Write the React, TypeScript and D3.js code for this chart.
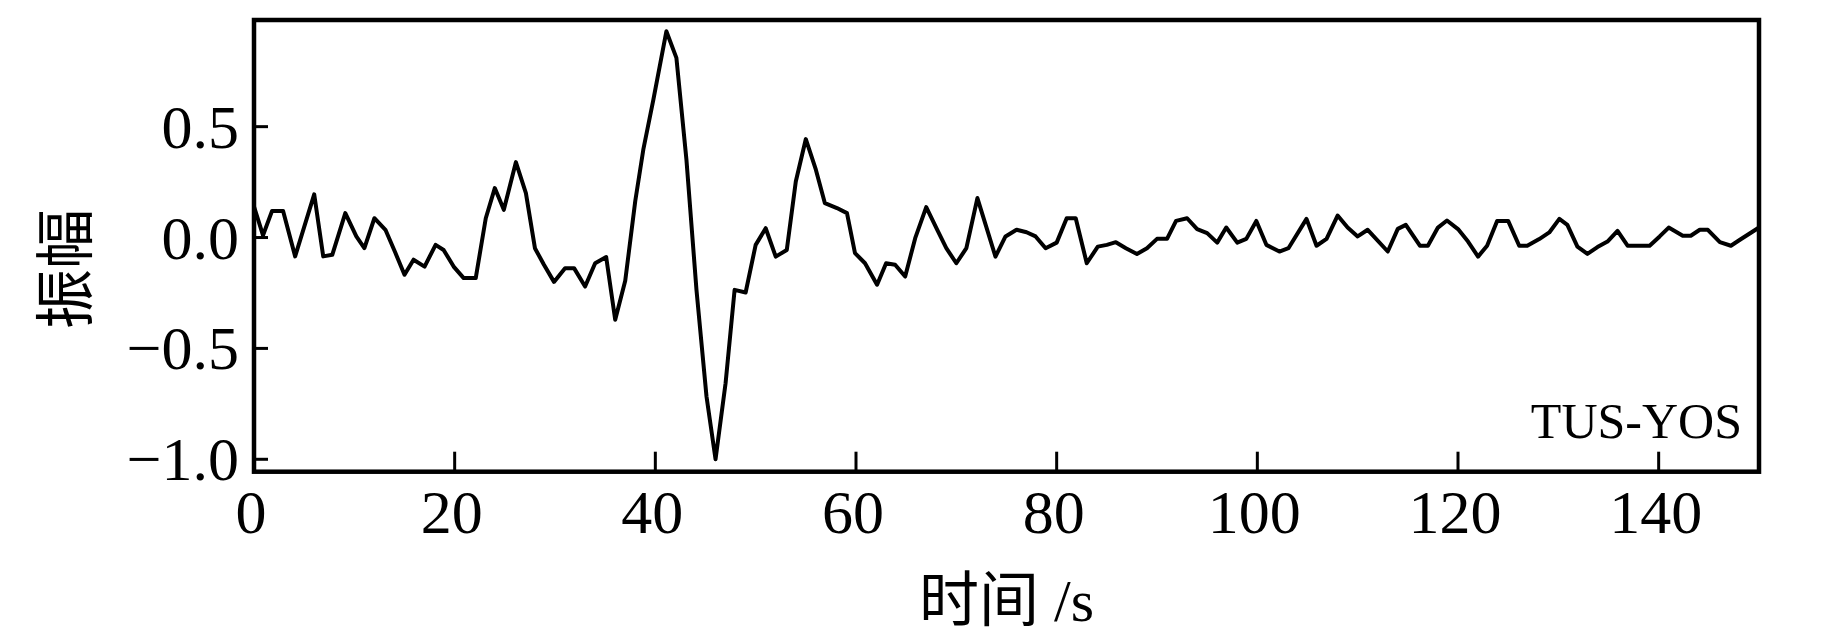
import React from "react";
import * as d3 from "d3";

const times: number[] = [
  0, 0.9, 1.8, 2.9, 4.1, 6.0, 6.9, 7.8, 9.1, 10.2, 11.0, 12.0, 13.1, 14.1, 15.0, 15.9, 17.0, 18.1, 18.9, 19.9,
  20.9, 22.1, 23.1, 24.0, 24.9, 26.1, 27.1, 28.0, 28.9, 29.9, 31.0, 31.9, 33.0, 34.0, 35.1, 36.0, 37.0, 38.0,
  38.8, 39.8, 41.1, 42.1, 43.1, 44.1, 45.1, 46.0, 47.0, 47.9, 49.0, 50.0, 51.0, 52.0, 53.1, 54.0, 55.0, 56.0,
  56.9, 58.1, 59.1, 59.9, 60.9, 62.1, 63.0, 63.9, 64.9, 65.9, 67.0, 68.1, 69.0, 70.0, 71.0, 72.1, 73.9, 74.9,
  76.0, 77.0, 77.9, 78.9, 80.0, 81.0, 81.9, 83.0, 84.1, 85.0, 85.9, 86.9, 88.0, 89.0, 90.0, 91.0, 91.9, 93.0,
  94.0, 95.0, 96.0, 96.9, 98.0, 98.9, 99.9, 100.9, 102.2, 103.1, 104.9, 105.9, 106.9, 108.0, 109.0, 110.0,
  111.0, 113.0, 114.0, 114.8, 116.2, 117.0, 118.0, 118.9, 120.0, 121.0, 122.0, 122.9, 123.9, 125.0, 126.1,
  126.9, 128.1, 129.1, 130.1, 130.9, 131.9, 132.9, 133.9, 134.9, 135.9, 136.9, 138.1, 139.1, 140.1, 141.0,
  142.4, 143.2, 144.1, 144.9, 146.1, 147.2, 148.1, 150.0,
];

const amplitudes: number[] = [
  0.14, 0.01, 0.12, 0.12, -0.085, 0.195, -0.085, -0.078, 0.11, 0.005, -0.048, 0.087, 0.035, -0.07, -0.168, -0.1,
  -0.131, -0.033, -0.056, -0.131, -0.183, -0.183, 0.087, 0.223, 0.125, 0.34, 0.2, -0.048, -0.123, -0.2, -0.138,
  -0.138, -0.221, -0.116, -0.088, -0.371, -0.195, 0.165, 0.396, 0.621, 0.93, 0.81, 0.351, -0.236, -0.717, -1.0,
  -0.657, -0.236, -0.248, -0.033, 0.042, -0.086, -0.056, 0.253, 0.444, 0.306, 0.155, 0.133, 0.11, -0.07, -0.116,
  -0.213, -0.116, -0.123, -0.176, -0.003, 0.137, 0.035, -0.048, -0.116, -0.048, 0.178, -0.086, 0.005, 0.035,
  0.024, 0.005, -0.048, -0.023, 0.087, 0.087, -0.116, -0.041, -0.033, -0.021, -0.048, -0.074, -0.048, -0.006,
  -0.006, 0.075, 0.087, 0.038, 0.02, -0.023, 0.045, -0.023, -0.006, 0.075, -0.033, -0.063, -0.048, 0.084,
  -0.037, -0.006, 0.099, 0.045, 0.005, 0.035, -0.063, 0.039, 0.057, -0.037, -0.037, 0.045, 0.077, 0.038,
  -0.018, -0.086, -0.037, 0.075, 0.075, -0.037, -0.037, -0.007, 0.023, 0.084, 0.057, -0.041, -0.074, -0.043,
  -0.018, 0.03, -0.037, -0.037, -0.037, 0.005, 0.045, 0.008, 0.008, 0.035, 0.035, -0.021, -0.037, -0.01, 0.045,
];

const xTicks: number[] = [0, 20, 40, 60, 80, 100, 120, 140];
const yTicks: number[] = [0.5, 0.0, -0.5, -1.0];
const xTitle = "时间 /s";
const yTitle = "振幅";
const stationLabel = "TUS-YOS";

const W = 1843;
const H = 638;
const left = 254;
const right = 1759;
const top = 20;
const bottom = 471.7;

const SERIF = "'Liberation Serif', 'Times New Roman', 'Noto Sans CJK SC', serif";
const CJK = "'Liberation Serif', 'Noto Sans CJK SC', serif";

export default function App() {
  const x = d3.scaleLinear().domain([0, 150]).range([left, right]);
  const y = d3.scaleLinear().domain([-1.056, 0.981]).range([bottom, top]);
  const pts: [number, number][] = times.map((t, i) => [t, amplitudes[i]]);
  const line = d3
    .line<[number, number]>()
    .x((d) => x(d[0]))
    .y((d) => y(d[1]));
  const fmt = (v: number) => (v < 0 ? "\u2212" : "") + Math.abs(v).toFixed(1);

  return (
    <svg
      width={W}
      height={H}
      viewBox={`0 0 ${W} ${H}`}
      style={{ position: "absolute", left: 0, top: 0, background: "#fff" }}
    >
      <defs>
        <clipPath id="plotClip">
          <rect x={left} y={top} width={right - left} height={bottom - top} />
        </clipPath>
      </defs>
      <rect x={0} y={0} width={W} height={H} fill="#fff" />
      <path
        d={line(pts) ?? ""}
        fill="none"
        stroke="#000"
        strokeWidth={4}
        strokeLinejoin="round"
        clipPath="url(#plotClip)"
      />
      {yTicks.map((v) => (
        <g key={"y" + v}>
          <line x1={left} x2={left + 14} y1={y(v)} y2={y(v)} stroke="#000" strokeWidth={3} />
          <text
            x={239}
            y={y(v)}
            textAnchor="end"
            dominantBaseline="central"
            fontFamily={SERIF}
            fontSize={62}
            fill="#000"
          >
            {fmt(v)}
          </text>
        </g>
      ))}
      {xTicks.map((t) => (
        <g key={"x" + t}>
          <line x1={x(t)} x2={x(t)} y1={bottom} y2={bottom - 20} stroke="#000" strokeWidth={3} />
          <text
            x={x(t) - 3}
            y={533}
            textAnchor="middle"
            fontFamily={SERIF}
            fontSize={62}
            fill="#000"
          >
            {t}
          </text>
        </g>
      ))}
      <rect
        x={left}
        y={top}
        width={right - left}
        height={bottom - top}
        fill="none"
        stroke="#000"
        strokeWidth={4.5}
      />
      <text
        x={1742}
        y={438}
        textAnchor="end"
        fontFamily={SERIF}
        fontSize={50}
        fill="#000"
      >
        {stationLabel}
      </text>
      <text
        x={(left + right) / 2}
        y={621}
        textAnchor="middle"
        fontFamily={CJK}
        fontSize={60}
        fill="#000"
      >
        {xTitle}
      </text>
      <text
        transform="translate(67,269) rotate(-90)"
        textAnchor="middle"
        dominantBaseline="central"
        fontFamily={CJK}
        fontSize={60}
        fill="#000"
      >
        {yTitle}
      </text>
    </svg>
  );
}
